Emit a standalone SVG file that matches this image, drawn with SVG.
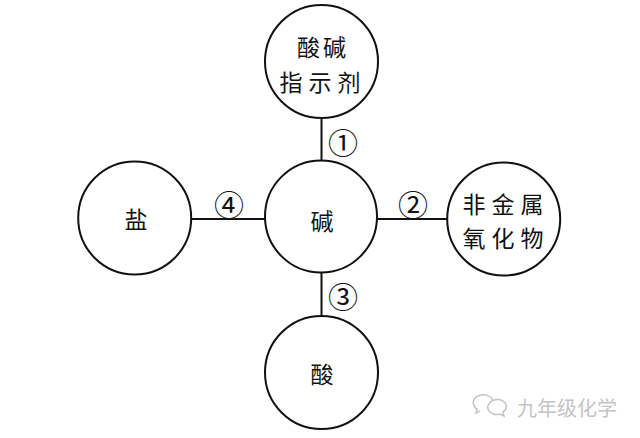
<svg xmlns="http://www.w3.org/2000/svg" width="640" height="438" viewBox="0 0 640 438">
<style>
.node circle{fill:#fff;stroke:#111;stroke-width:2}
.lbl{font-family:"Noto Sans CJK SC","Noto Sans CJK JP",sans-serif;font-size:23px;fill:#111;text-anchor:middle;dominant-baseline:central}
.num{font-family:"Noto Sans CJK SC","DejaVu Sans",sans-serif;font-size:30px;fill:#111;text-anchor:middle;dominant-baseline:central}
.conn line{stroke:#111;stroke-width:2}
.wm{font-family:"Noto Sans CJK SC",sans-serif;font-size:20px;fill:#c4c4c4;dominant-baseline:central}
</style>
<rect width="640" height="438" fill="#fff"/>
<g id="connectors" class="conn">
<line x1="321.5" y1="118" x2="321.5" y2="161"/>
<line x1="191" y1="219" x2="265" y2="219"/>
<line x1="377" y1="219" x2="447" y2="219"/>
<line x1="321.5" y1="272" x2="321.5" y2="316"/>
</g>
<g id="labels">
<text class="num" x="343" y="141">①</text>
<text class="num" x="413" y="203">②</text>
<text class="num" x="343" y="295">③</text>
<text class="num" x="229" y="203">④</text>
</g>
<g id="node-indicator" class="node">
<circle cx="321.5" cy="61.5" r="56.5"/>
<text class="lbl" x="323" y="46" letter-spacing="3">酸碱</text>
<text class="lbl" x="323" y="81" letter-spacing="6">指示剂</text>
</g>
<g id="node-base" class="node">
<circle cx="321" cy="216.5" r="56"/>
<text class="lbl" x="322" y="220" font-size="25">碱</text>
</g>
<g id="node-salt" class="node">
<circle cx="134.7" cy="218" r="56.5"/>
<text class="lbl" x="136" y="218" font-size="25">盐</text>
</g>
<g id="node-oxide" class="node">
<circle cx="503.7" cy="219" r="56.5"/>
<text class="lbl" x="506" y="203" letter-spacing="6">非金属</text>
<text class="lbl" x="506" y="237" letter-spacing="6">氧化物</text>
</g>
<g id="node-acid" class="node">
<circle cx="321.5" cy="372.5" r="56.5"/>
<text class="lbl" x="322" y="373" font-size="25">酸</text>
</g>
<g id="watermark">
<g fill="none" stroke="#c4c4c4" stroke-width="1.5">
<path d="M493 401 a10 8 0 1 0 -16 8 l-1 4 l4 -2"/>
<path d="M489 404 a9 7 0 1 1 14 8 l1 4 l-4 -2 a9 7 0 0 1 -11 -10"/>
</g>
<text class="wm" x="517" y="407">九年级化学</text>
</g>
</svg>
